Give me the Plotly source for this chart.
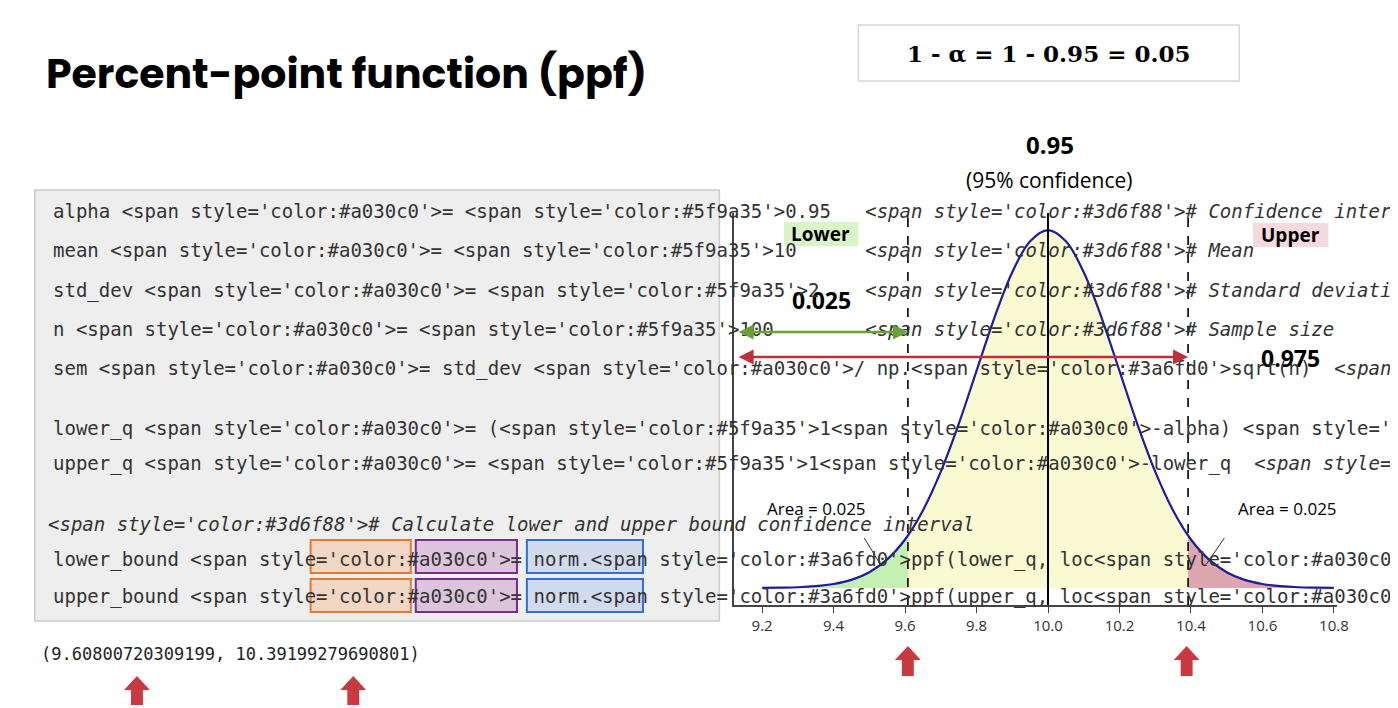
import plotly.graph_objects as go

# normal curve, mean 10, sem 0.2
x_vals = [9.2, 9.25, 9.3, 9.35, 9.4, 9.45, 9.5, 9.55, 9.6, 9.65, 9.7, 9.75, 9.8, 9.85, 9.9, 9.95, 10.0,
          10.05, 10.1, 10.15, 10.2, 10.25, 10.3, 10.35, 10.4, 10.45, 10.5, 10.55, 10.6, 10.65, 10.7, 10.75, 10.8]
y_vals = [0.001, 0.002, 0.004, 0.010, 0.022, 0.045, 0.088, 0.159, 0.270, 0.432, 0.648, 0.913, 1.210, 1.506, 1.760, 1.933, 1.995,
          1.933, 1.760, 1.506, 1.210, 0.913, 0.648, 0.432, 0.270, 0.159, 0.088, 0.045, 0.022, 0.010, 0.004, 0.002, 0.001]
lower_bound = 9.60800720309199
upper_bound = 10.39199279690801
lower_y = 0.292
upper_y = 0.292
mean = 10.0
tick_vals = [9.2, 9.4, 9.6, 9.8, 10.0, 10.2, 10.4, 10.6, 10.8]

W, H = 1398, 708
def px(x): return x / W
def py(y): return 1 - y / H

def region(lo, hi, ylo, yhi):
    xs = [lo] + [x for x in x_vals if lo < x < hi] + [hi]
    ys = [ylo] + [y for x, y in zip(x_vals, y_vals) if lo < x < hi] + [yhi]
    return xs, ys

fig = go.Figure()
for (lo, hi, ylo, yhi, col) in [(9.2, lower_bound, 0.001, lower_y, "rgba(190,240,170,0.9)"),
                                (lower_bound, upper_bound, lower_y, upper_y, "rgba(250,250,205,0.9)"),
                                (upper_bound, 10.8, upper_y, 0.001, "rgba(215,150,160,0.85)")]:
    xs, ys = region(lo, hi, ylo, yhi)
    fig.add_trace(go.Scatter(x=xs + [hi, lo], y=ys + [0, 0], fill="toself", fillcolor=col,
                             line=dict(width=0), mode="lines", hoverinfo="skip"))
fig.add_trace(go.Scatter(x=x_vals, y=y_vals, mode="lines", line=dict(color="#1c1c9c", width=2.2, shape="spline")))

shapes = []
shapes.append(dict(type="line", xref="x", yref="paper", x0=mean, x1=mean, y0=py(597), y1=py(205),
                   line=dict(color="black", width=2)))
for b in [lower_bound, upper_bound]:
    shapes.append(dict(type="line", xref="x", yref="paper", x0=b, x1=b, y0=py(597), y1=py(205),
                       line=dict(color="black", width=1.6, dash="dash")))
# code box
shapes.append(dict(type="rect", xref="paper", yref="paper", x0=px(27), x1=px(717), y0=py(613), y1=py(182),
                   fillcolor="#eeeeee", line=dict(color="#cccccc", width=1.5), layer="below"))
# top formula box
shapes.append(dict(type="rect", xref="paper", yref="paper", x0=px(857), x1=px(1241), y0=py(73), y1=py(17),
                   fillcolor="white", line=dict(color="#d8d8d8", width=1.5)))
# highlight boxes in code
for y0, y1 in [(532, 565), (571, 604)]:
    for x0, x1, fc, lc in [(305, 406, "#f2d6c4", "#e07b30"), (411, 513, "#dcc4dc", "#7b2c8a"),
                           (523, 640, "#d2daee", "#2f6fd6")]:
        shapes.append(dict(type="rect", xref="paper", yref="paper", x0=px(x0), x1=px(x1), y0=py(y1), y1=py(y0),
                           fillcolor=fc, line=dict(color=lc, width=2), layer="below"))
# label highlights
shapes.append(dict(type="rect", xref="paper", yref="paper", x0=px(782), x1=px(857), y0=py(238), y1=py(214),
                   fillcolor="#d9f5c8", line=dict(width=0), layer="below"))
shapes.append(dict(type="rect", xref="paper", yref="paper", x0=px(1255), x1=px(1331), y0=py(239), y1=py(215),
                   fillcolor="#f5d9de", line=dict(width=0), layer="below"))
# leader lines
for (a, b, c, d) in [(863, 530, 879, 556), (1226, 530, 1208, 556)]:
    shapes.append(dict(type="line", xref="paper", yref="paper", x0=px(a), y0=py(b), x1=px(c), y1=py(d),
                       line=dict(color="#333", width=1)))

# big red block arrows
def block_arrow(cx, top, bottom):
    pts = [(cx, top), (cx + 13, top + 14), (cx + 6, top + 14), (cx + 6, bottom), (cx - 6, bottom),
           (cx - 6, top + 14), (cx - 13, top + 14)]
    return "M " + " L ".join(f"{px(a):.5f},{py(b):.5f}" for a, b in pts) + " Z"
for cx, top, bottom in [(130, 668, 697), (348, 668, 697), (907, 638, 668), (1188, 638, 668)]:
    shapes.append(dict(type="path", xref="paper", yref="paper", path=block_arrow(cx, top, bottom),
                       fillcolor="#c9393f", line=dict(width=0)))

ann = []
def txt(x, y, t, size, anchor="left", bold=False, color="black", font="Open Sans", italic=False):
    ann.append(dict(x=px(x), y=py(y), xref="paper", yref="paper", text=(f"<b>{t}</b>" if bold else t),
                    showarrow=False, xanchor=anchor, yanchor="middle",
                    font=dict(size=size, color=color, family=font, style="italic" if italic else "normal")))

txt(36, 65, "Percent-point function (ppf)", 41, bold=True, font="Poppins, Open Sans")
txt(1049, 45, "1 - α = 1 - 0.95 = 0.05", 23, anchor="center", bold=True, font="DejaVu Serif")
txt(1050, 136, "0.95", 24, anchor="center", bold=True)
txt(1050, 172, "(95% confidence)", 21, anchor="center")
txt(819, 226, "Lower", 19, anchor="center", bold=True)
txt(1293, 227, "Upper", 19, anchor="center", bold=True)
txt(820, 292, "0.025", 23, anchor="center", bold=True)
txt(1293, 350, "0.975", 23, anchor="center", bold=True)
txt(815, 500, "Area = 0.025", 17, anchor="center")
txt(1290, 500, "Area = 0.025", 17, anchor="center")

# code lines
OP = "#a030c0"; NUM = "#5f9a35"; COM = "#3d6f88"; FN = "#3a6fd0"
def s(t, c): return f"<span style='color:{c}'>{t}</span>"
def cm(t): return f"<i><span style='color:{COM}'>{t}</span></i>"
eq = s("=", OP)
code = [
    (203, f"alpha {eq} {s('0.95', NUM)}   {cm('# Confidence interval')}"),
    (242, f"mean {eq} {s('10', NUM)}      {cm('# Mean')}"),
    (282, f"std_dev {eq} {s('2', NUM)}    {cm('# Standard deviation')}"),
    (321, f"n {eq} {s('100', NUM)}        {cm('# Sample size')}"),
    (360, f"sem {eq} std_dev {s('/', OP)} np.{s('sqrt', FN)}(n)  {cm('# Standard error of mean')}"),
    (420, f"lower_q {eq} ({s('1', NUM)}{s('-', OP)}alpha) {s('/', OP)} 2     {cm('# Lower quartile')}"),
    (456, f"upper_q {eq} {s('1', NUM)}{s('-', OP)}lower_q  {cm('# Upper quartile')}"),
    (516, cm("# Calculate lower and upper bound confidence interval")),
    (551, f"lower_bound {eq} norm.{s('ppf', FN)}(lower_q, loc{eq}mean, scale{eq}sem)"),
    (588, f"upper_bound {eq} norm.{s('ppf', FN)}(upper_q, loc{eq}mean, scale{eq}sem)"),
]
for y, t in code:
    x0 = 38 if t.startswith("<i>") else 43
    ann.append(dict(x=px(x0), y=py(y), xref="paper", yref="paper", text=t.replace(" ", "&nbsp;"),
                    showarrow=False, xanchor="left", yanchor="middle",
                    font=dict(size=19, color="#333", family="DejaVu Sans Mono")))
ann.append(dict(x=px(31), y=py(646), xref="paper", yref="paper",
                text=f"({lower_bound}, {upper_bound})", showarrow=False, xanchor="left", yanchor="middle",
                font=dict(size=17, color="#222", family="DejaVu Sans Mono")))

# double arrows
for xe, y, col in [(lower_bound, 324, "#6a9f3a"), (upper_bound, 349, "#c0303a")]:
    ann.append(dict(x=xe, y=py(y), xref="x", yref="paper", ax=9.13, ay=0, axref="x", ayref="pixel",
                    text="", showarrow=True, arrowhead=2, startarrowhead=2, arrowside="end+start",
                    arrowsize=1.2, arrowwidth=2.5, arrowcolor=col, standoff=0, startstandoff=0))

fig.update_layout(
    width=W, height=H, margin=dict(l=0, r=0, t=0, b=0), showlegend=False,
    paper_bgcolor="white", plot_bgcolor="white", shapes=shapes, annotations=ann,
    xaxis=dict(domain=[px(732), px(1340)], range=[9.122, 10.81], tickvals=tick_vals,
               ticktext=[f"{v:.1f}" for v in tick_vals], ticks="outside", ticklen=6, tickcolor="#444",
               showline=True, linecolor="#444", linewidth=2, showgrid=False, zeroline=False,
               tickfont=dict(size=15, color="#333", family="Open Sans")),
    yaxis=dict(domain=[py(597), py(205)], range=[-0.095, 2.09], showticklabels=False, ticks="",
               showline=True, linecolor="#444", linewidth=2, showgrid=False, zeroline=False),
)
fig.write_html("out.html")
